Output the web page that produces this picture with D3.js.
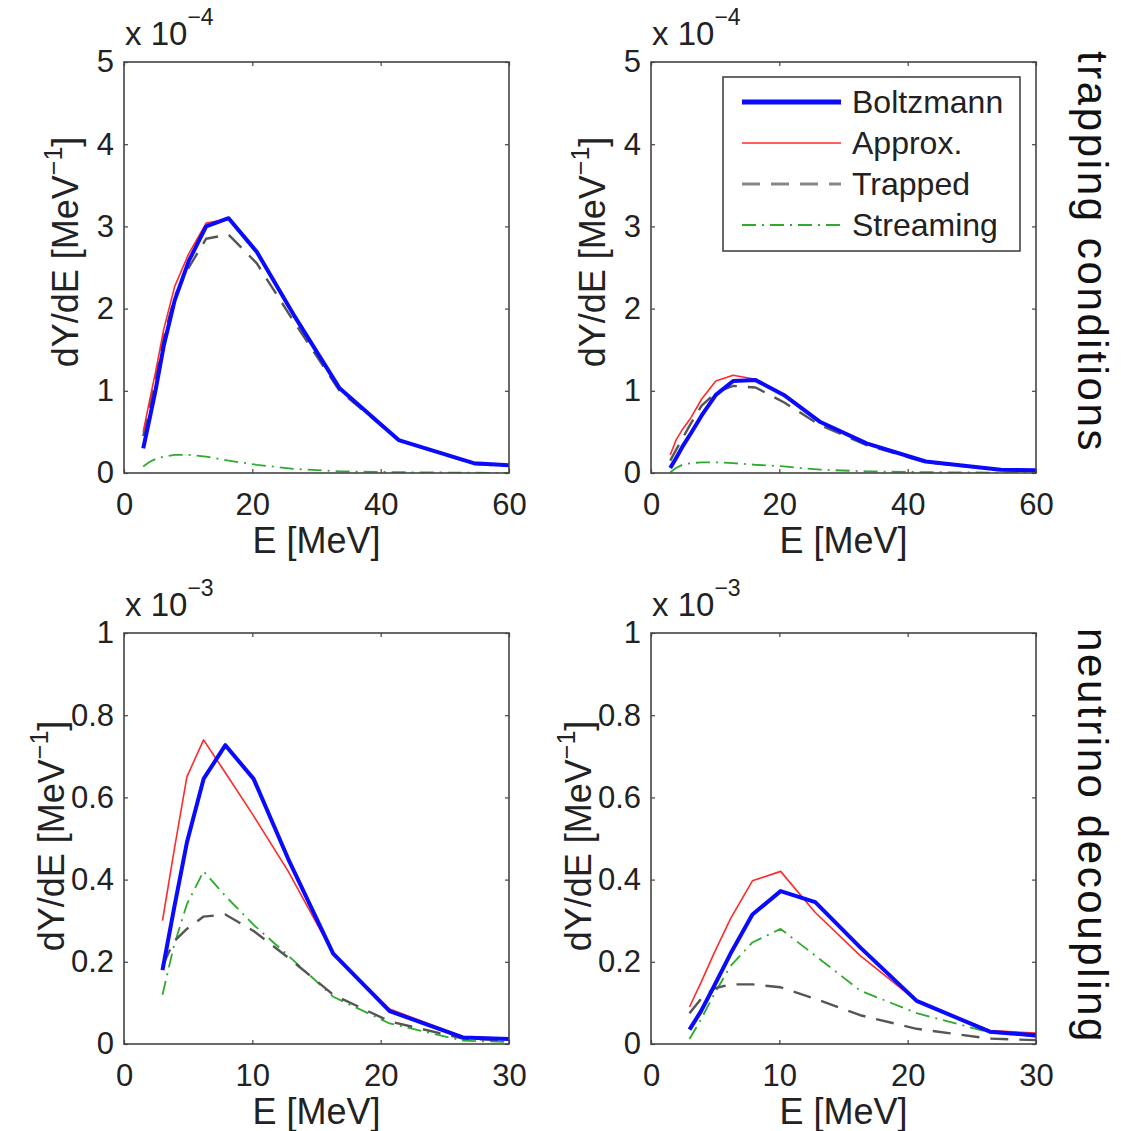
<!DOCTYPE html>
<html>
<head>
<meta charset="utf-8">
<title>dY/dE spectra</title>
<script src="https://cdnjs.cloudflare.com/ajax/libs/d3/7.8.5/d3.min.js"></script>
<style>
  body { margin: 0; background: #fff; }
  text { font-family: "Liberation Sans", Arial, Helvetica, sans-serif; fill: #222; }
  .frame { fill: none; stroke: #444; stroke-width: 1.6px; }
  .tick line { stroke: #444; stroke-width: 1.2px; }
  .tick text { font-size: 31px; fill: #222; }
  .domain { display: none; }
  .lbl { font-size: 36px; }
  .side { font-size: 42px; fill: #111; letter-spacing: 2.6px; }
  .legend-box { fill: #fff; stroke: #444; stroke-width: 1.6px; }
  .legend-text { font-size: 32px; }
</style>
</head>
<body>
<svg id="chart" width="1121" height="1131"></svg>
<script>
// energy grid [MeV]
var energy = [3.0, 3.9, 4.9, 6.2, 7.9, 10.1, 12.8, 16.3, 20.7, 26.4, 33.6, 42.8, 54.5, 69.0];

// trapping conditions, left panel (x 1e-4)
var trapLeftBoltzmann = [0.30, 0.63, 1.00, 1.55, 2.10, 2.58, 3.00, 3.10, 2.69, 1.93, 1.03, 0.40, 0.12, 0.05];
var trapLeftApprox    = [0.50, 0.85, 1.22, 1.75, 2.27, 2.67, 3.04, 3.09, 2.69, 1.93, 1.03, 0.40, 0.12, 0.05];
var trapLeftTrapped   = [0.45, 0.78, 1.15, 1.65, 2.15, 2.50, 2.85, 2.90, 2.55, 1.85, 1.00, 0.40, 0.11, 0.05];
var trapLeftStreaming = [0.08, 0.13, 0.17, 0.20, 0.22, 0.22, 0.20, 0.15, 0.10, 0.05, 0.02, 0.01, 0.003, 0.001];

// trapping conditions, right panel (x 1e-4)
var trapRightBoltzmann = [0.06, 0.18, 0.32, 0.48, 0.70, 0.95, 1.12, 1.13, 0.95, 0.62, 0.36, 0.14, 0.04, 0.02];
var trapRightApprox    = [0.22, 0.40, 0.53, 0.67, 0.90, 1.12, 1.19, 1.14, 0.95, 0.62, 0.36, 0.14, 0.04, 0.02];
var trapRightTrapped   = [0.15, 0.28, 0.42, 0.60, 0.82, 0.98, 1.06, 1.04, 0.86, 0.58, 0.34, 0.13, 0.04, 0.02];
var trapRightStreaming = [0.01, 0.06, 0.10, 0.12, 0.13, 0.13, 0.12, 0.10, 0.08, 0.04, 0.02, 0.01, 0.005, 0.002];

// neutrino decoupling, left panel (x 1e-3)
var decLeftBoltzmann = [0.18, 0.33, 0.49, 0.645, 0.727, 0.645, 0.45, 0.22, 0.08, 0.016, 0.008, 0.004, 0.002, 0.001];
var decLeftApprox    = [0.30, 0.47, 0.65, 0.74, 0.66, 0.555, 0.42, 0.22, 0.085, 0.018, 0.009, 0.004, 0.002, 0.001];
var decLeftTrapped   = [0.19, 0.25, 0.28, 0.31, 0.315, 0.275, 0.21, 0.12, 0.055, 0.013, 0.004, 0.002, 0.001, 0.0005];
var decLeftStreaming = [0.12, 0.24, 0.34, 0.42, 0.36, 0.29, 0.215, 0.115, 0.05, 0.008, 0.002, 0.001, 0.0005, 0.0002];

// neutrino decoupling, right panel (x 1e-3)
var decRightBoltzmann = [0.035, 0.08, 0.14, 0.22, 0.315, 0.372, 0.345, 0.235, 0.105, 0.03, 0.012, 0.005, 0.002, 0.001];
var decRightApprox    = [0.09, 0.15, 0.22, 0.305, 0.397, 0.42, 0.32, 0.215, 0.105, 0.033, 0.02, 0.01, 0.005, 0.002];
var decRightTrapped   = [0.075, 0.11, 0.135, 0.145, 0.145, 0.138, 0.11, 0.07, 0.037, 0.013, 0.006, 0.003, 0.001, 0.0005];
var decRightStreaming = [0.012, 0.06, 0.12, 0.19, 0.247, 0.28, 0.215, 0.13, 0.075, 0.028, 0.008, 0.004, 0.002, 0.001];

var seriesNames = ["Boltzmann", "Approx.", "Trapped", "Streaming"];
var topXTicks = [0, 20, 40, 60];
var bottomXTicks = [0, 10, 20, 30];
var topYTicks = [0, 1, 2, 3, 4, 5];
var bottomYTicks = [0, 0.2, 0.4, 0.6, 0.8, 1];
var sideLabels = ["trapping conditions", "neutrino decoupling"];

var styles = {
  "Boltzmann": { stroke: "#0a0aff", width: 4, dash: null },
  "Approx.":   { stroke: "#ff2a2a", width: 1.6, dash: null },
  "Trapped":   { stroke: "#555", width: 2.4, dash: "18,11" },
  "Streaming": { stroke: "#2faa2f", width: 1.8, dash: "14,6,2,6" }
};

var W = 385, H = 411;
var panels = [
  { left: 124, top: 62, xMax: 60, xTicks: topXTicks, yMax: 5, yTicks: topYTicks, exp: "\u22124", labX: -46, labY: 190,
    data: [trapLeftBoltzmann, trapLeftApprox, trapLeftTrapped, trapLeftStreaming] },
  { left: 651, top: 62, xMax: 60, xTicks: topXTicks, yMax: 5, yTicks: topYTicks, exp: "\u22124", labX: -46, labY: 190, legend: true,
    data: [trapRightBoltzmann, trapRightApprox, trapRightTrapped, trapRightStreaming] },
  { left: 124, top: 633, xMax: 30, xTicks: bottomXTicks, yMax: 1, yTicks: bottomYTicks, exp: "\u22123", labX: -60, labY: 203,
    data: [decLeftBoltzmann, decLeftApprox, decLeftTrapped, decLeftStreaming] },
  { left: 651, top: 633, xMax: 30, xTicks: bottomXTicks, yMax: 1, yTicks: bottomYTicks, exp: "\u22123", labX: -60, labY: 203,
    data: [decRightBoltzmann, decRightApprox, decRightTrapped, decRightStreaming] }
];

var svg = d3.select("#chart");
var fmt = d3.format("~g");

panels.forEach(function(p, i) {
  var x = d3.scaleLinear().domain([0, p.xMax]).range([0, W]);
  var y = d3.scaleLinear().domain([0, p.yMax]).range([H, 0]);
  var g = svg.append("g").attr("transform", "translate(" + p.left + "," + p.top + ")");

  g.append("clipPath").attr("id", "clip" + i)
    .append("rect").attr("width", W).attr("height", H);

  // ticks on all four sides, pointing inward
  g.append("g").attr("transform", "translate(0," + H + ")")
    .call(d3.axisBottom(x).tickValues(p.xTicks).tickSize(-4).tickPadding(20).tickFormat(fmt));
  g.append("g")
    .call(d3.axisTop(x).tickValues(p.xTicks).tickSize(-4).tickFormat(""));
  g.append("g")
    .call(d3.axisLeft(y).tickValues(p.yTicks).tickSize(-4).tickPadding(10).tickFormat(fmt));
  g.append("g").attr("transform", "translate(" + W + ",0)")
    .call(d3.axisRight(y).tickValues(p.yTicks).tickSize(-4).tickFormat(""));

  var line = d3.line().x(function(d) { return x(d[0]); }).y(function(d) { return y(d[1]); });
  var plot = g.append("g").attr("clip-path", "url(#clip" + i + ")");
  // draw back to front: streaming, trapped, approx, boltzmann
  [3, 2, 1, 0].forEach(function(k) {
    var st = styles[seriesNames[k]];
    var pts = energy.map(function(e, j) { return [e, p.data[k][j]]; });
    plot.append("path")
      .attr("d", line(pts))
      .attr("fill", "none")
      .attr("stroke", st.stroke)
      .attr("stroke-width", st.width)
      .attr("stroke-dasharray", st.dash)
      .attr("stroke-linejoin", "round");
  });

  g.append("rect").attr("class", "frame").attr("width", W).attr("height", H);

  // exponent note
  var ex = g.append("text").attr("x", 1).attr("y", -17).style("font-size", "33px");
  ex.append("tspan").text("x 10");
  ex.append("tspan").attr("dy", -20).style("font-size", "23px").text(p.exp);

  // axis labels
  g.append("text").attr("class", "lbl")
    .attr("x", W / 2).attr("y", H + 80)
    .attr("text-anchor", "middle")
    .text("E [MeV]");

  var yl = g.append("text").attr("class", "lbl")
    .attr("transform", "translate(" + p.labX + "," + p.labY + ") rotate(-90)")
    .attr("text-anchor", "middle");
  yl.append("tspan").text("dY/dE [MeV");
  yl.append("tspan").attr("dy", -16).style("font-size", "25px").text("\u22121");
  yl.append("tspan").attr("dy", 16).text("]");

  if (p.legend) {
    var lg = g.append("g").attr("transform", "translate(72,15)");
    lg.append("rect").attr("class", "legend-box").attr("width", 297).attr("height", 174);
    seriesNames.forEach(function(name, k) {
      var st = styles[name];
      var yy = 25 + k * 41;
      lg.append("line")
        .attr("x1", 19).attr("x2", 118).attr("y1", yy).attr("y2", yy)
        .attr("stroke", name === "Trapped" ? "#888" : st.stroke)
        .attr("stroke-width", name === "Boltzmann" ? 5 : (name === "Trapped" ? 3 : st.width))
        .attr("stroke-dasharray", st.dash);
      lg.append("text").attr("class", "legend-text")
        .attr("x", 129).attr("y", yy).attr("dy", "0.35em")
        .text(name);
    });
  }
});

// row labels on the right
sideLabels.forEach(function(t, r) {
  svg.append("text").attr("class", "side")
    .attr("transform", "translate(1078," + (r === 0 ? 252 : 836) + ") rotate(90)")
    .attr("text-anchor", "middle")
    .text(t);
});
</script>
</body>
</html>
